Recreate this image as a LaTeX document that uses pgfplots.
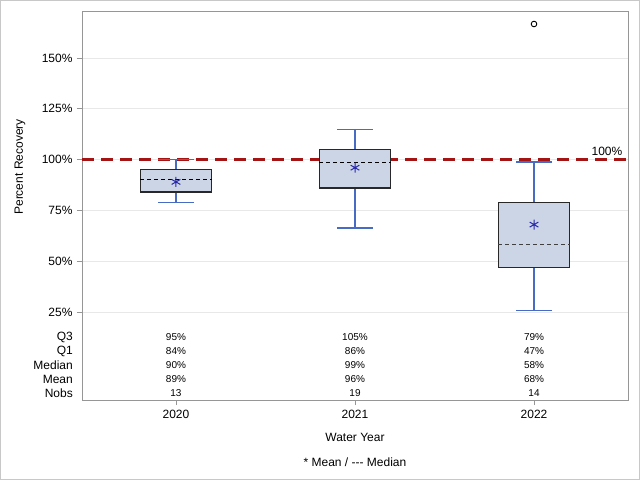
\documentclass[border=0pt]{standalone}
\usepackage{pgfplots}
\pgfplotsset{compat=1.18}
\usepackage{fontspec}
\setmainfont{Liberation Sans}
\definecolor{boxfill}{RGB}{203,213,230}
\definecolor{boxedge}{RGB}{40,40,40}
\definecolor{whisk}{RGB}{72,108,196}
\definecolor{meanblue}{RGB}{40,40,170}
\definecolor{refred}{RGB}{165,20,20}
\definecolor{axgray}{RGB}{150,150,150}
\definecolor{gridgray}{RGB}{232,232,232}
\begin{document}
\begin{tikzpicture}
\path[use as bounding box] (0,0) rectangle (640bp,480bp);
\draw[color={rgb,255:red,200;green,200;blue,200}, line width=1bp] (0.5bp,0.5bp) rectangle (639.5bp,479.5bp);
\begin{axis}[
  at={(82bp,80bp)}, anchor=south west,
  scale only axis, width=546bp, height=389bp,
  xmin=-0.525, xmax=2.525, ymin=-18.3, ymax=173.1,
  clip=false,
  axis line style={draw=axgray, line width=0.8bp},
  xtick={0,1,2}, xticklabels={2020,2021,2022},
  ytick={25,50,75,100,125,150},
  yticklabels={25\%,50\%,75\%,100\%,125\%,150\%},
  tick align=outside, major tick length=5bp,
  tick style={draw=axgray, line width=0.8bp},
  xtick pos=bottom, ytick pos=left,
  ymajorgrids, grid style={draw=gridgray, line width=0.8bp},
  ticklabel style={font=\fontsize{12bp}{14bp}\selectfont},
  xticklabel style={yshift=-2bp},
  yticklabel style={xshift=-1bp},
  xlabel={Water Year},
  ylabel={Percent Recovery},
  every axis x label/.style={at={(axis description cs:0.5,0)}, anchor=center, yshift=-37bp, font=\fontsize{12bp}{14bp}\selectfont},
  every axis y label/.style={at={(axis description cs:-0.1136,0.599)}, rotate=90, anchor=center, font=\fontsize{12bp}{14bp}\selectfont},
]
% reference line
\addplot[refred, line width=2.4bp, dash pattern=on 12bp off 7bp] coordinates {(-0.525,100) (2.525,100)};
\node[anchor=south east, font=\fontsize{12bp}{14bp}\selectfont, inner sep=1bp] at (axis cs:2.5,101.5) {100\%};
% whiskers (stems)
\addplot[whisk, line width=1.2bp] coordinates {(0,95.3) (0,100)};
\addplot[whisk, line width=1.2bp] coordinates {(0,84) (0,78.8)};
\addplot[whisk, line width=1.2bp] coordinates {(1,105) (1,114.6)};
\addplot[whisk, line width=1.2bp] coordinates {(1,86) (1,66.3)};
\addplot[whisk, line width=1.2bp] coordinates {(2,79) (2,98.8)};
\addplot[whisk, line width=1.2bp] coordinates {(2,47) (2,25.9)};
% caps
\addplot[whisk, line width=1.2bp] coordinates {(-0.1,100) (0.1,100)};
\addplot[whisk, line width=1.2bp] coordinates {(-0.1,78.8) (0.1,78.8)};
\addplot[whisk, line width=1.2bp] coordinates {(0.9,114.6) (1.1,114.6)};
\addplot[whisk, line width=1.2bp] coordinates {(0.9,66.3) (1.1,66.3)};
\addplot[whisk, line width=1.2bp] coordinates {(1.9,98.8) (2.1,98.8)};
\addplot[whisk, line width=1.2bp] coordinates {(1.9,25.9) (2.1,25.9)};
% boxes
\addplot[draw=boxedge, fill=boxfill, line width=1.2bp] coordinates {(-0.2,84) (0.2,84) (0.2,95.3) (-0.2,95.3)} --cycle;
\addplot[draw=boxedge, fill=boxfill, line width=1.2bp] coordinates {(0.8,86) (1.2,86) (1.2,105) (0.8,105)} --cycle;
\addplot[draw=boxedge, fill=boxfill, line width=1.2bp] coordinates {(1.8,47) (2.2,47) (2.2,79) (1.8,79)} --cycle;
% medians
\addplot[black, line width=1bp, dash pattern=on 4bp off 3bp] coordinates {(-0.2,90) (0.2,90)};
\addplot[black, line width=1bp, dash pattern=on 4bp off 3bp] coordinates {(0.8,98.8) (1.2,98.8)};
\addplot[black!75, line width=1bp, dash pattern=on 4bp off 3bp] coordinates {(1.8,58) (2.2,58)};
% means
\addplot[only marks, mark=asterisk, mark size=5bp, mark options={draw=meanblue, line width=1bp}] coordinates {(0,89) (1,96) (2,68)};
% outlier
\addplot[only marks, mark=o, mark size=2.8bp, mark options={draw=black, line width=0.9bp}] coordinates {(2,166.7)};
% table values
\begin{scope}[every node/.style={font=\fontsize{10bp}{12bp}\selectfont, inner sep=0pt, anchor=center}]
\node at (axis cs:0,12.7) {95\%};
\node at (axis cs:0,5.8) {84\%};
\node at (axis cs:0,-1.1) {90\%};
\node at (axis cs:0,-8.0) {89\%};
\node at (axis cs:0,-14.9) {13};
\node at (axis cs:1,12.7) {105\%};
\node at (axis cs:1,5.8) {86\%};
\node at (axis cs:1,-1.1) {99\%};
\node at (axis cs:1,-8.0) {96\%};
\node at (axis cs:1,-14.9) {19};
\node at (axis cs:2,12.7) {79\%};
\node at (axis cs:2,5.8) {47\%};
\node at (axis cs:2,-1.1) {58\%};
\node at (axis cs:2,-8.0) {68\%};
\node at (axis cs:2,-14.9) {14};
\end{scope}
\end{axis}
\begin{scope}[every node/.style={font=\fontsize{12bp}{14bp}\selectfont, inner sep=0pt, anchor=east}]
\node at (73bp,143bp) {Q3};
\node at (73bp,129bp) {Q1};
\node at (73bp,115bp) {Median};
\node at (73bp,101bp) {Mean};
\node at (73bp,87bp) {Nobs};
\end{scope}
\node[font=\fontsize{12bp}{14bp}\selectfont, anchor=center] at (355bp,18bp) {* Mean / -{}-{}- Median};
\end{tikzpicture}
\end{document}
